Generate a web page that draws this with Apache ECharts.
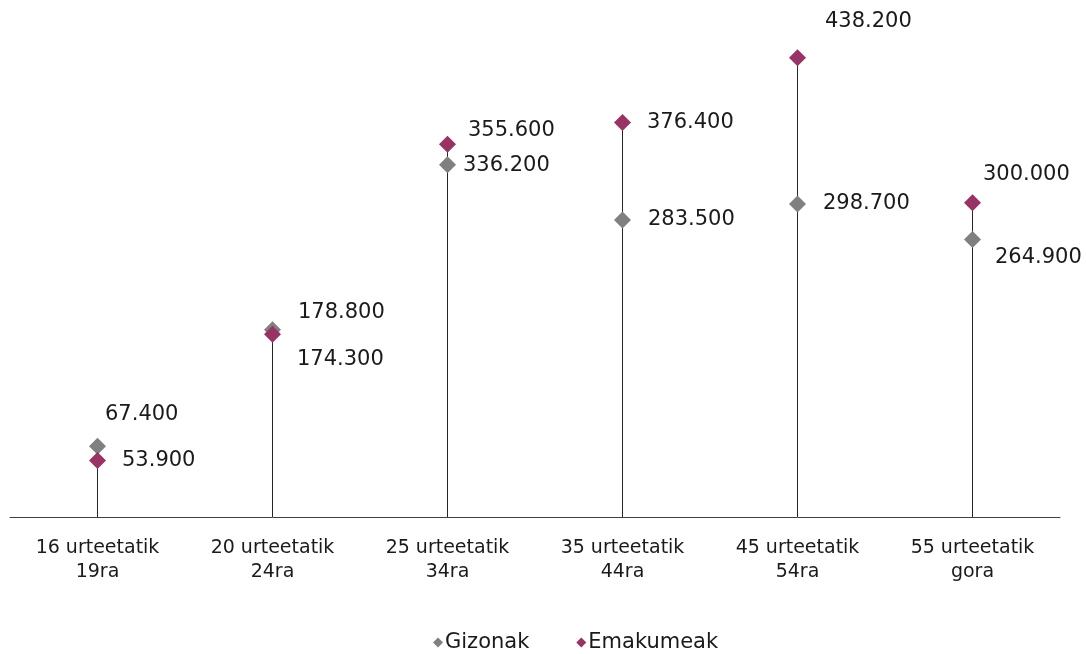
<!DOCTYPE html>
<html>
<head>
<meta charset="utf-8">
<script src="https://cdn.jsdelivr.net/npm/echarts@6/dist/echarts.min.js"></script>
<style>html,body{margin:0;padding:0;background:#fff}#c{width:1086px;height:654px}</style>
</head>
<body>
<div id="c"></div>
<script>
const categories = ['16 urteetatik\n19ra','20 urteetatik\n24ra','25 urteetatik\n34ra','35 urteetatik\n44ra','45 urteetatik\n54ra','55 urteetatik\ngora'];
const gizonak = [67400, 178800, 336200, 283500, 298700, 264900];
const emakumeak = [53900, 174300, 355600, 376400, 438200, 300000];
const seriesNames = ['Gizonak', 'Emakumeak'];

// label offsets (style only)
const gizOffsets = [[-1,-32],[17,-17],[7,1],[17,0],[17,0],[14,18]];
const emaOffsets = [[16,0],[16,25],[12,-14],[16,0],[19,-36],[2,-28]];

const FONT = 'DejaVu Sans, sans-serif';
const fmt = v => v.toString().replace(/\B(?=(\d{3})+(?!\d))/g, '.');

function pts(vals, offs) {
  return vals.map((v, i) => ({
    value: v,
    label: { offset: offs[i] }
  }));
}

const chart = echarts.init(document.getElementById('c'));
chart.setOption({
  animation: false,
  grid: { left: 10, right: 26, top: 14, bottom: 137 },
  xAxis: {
    type: 'category',
    data: categories,
    axisLine: { lineStyle: { color: '#404040', width: 1 } },
    axisTick: { show: false },
    axisLabel: { color: '#1a1a1a', fontSize: 19, fontFamily: FONT, lineHeight: 24, margin: 19 }
  },
  yAxis: { type: 'value', min: 0, max: 480000, show: false, splitLine: { show: false } },
  legend: {
    data: seriesNames,
    left: 428, top: 627,
    itemWidth: 10, itemHeight: 10, itemGap: 47,
    icon: 'diamond',
    textStyle: { color: '#1a1a1a', fontSize: 21, fontFamily: FONT, padding: [0,0,0,-3] }
  },
  series: [
    {
      type: 'bar', name: 'drop', data: emakumeak, barWidth: 1, silent: true,
      itemStyle: { color: '#262626' }, z: 1
    },
    {
      type: 'scatter', name: seriesNames[0], data: pts(gizonak, gizOffsets),
      symbol: 'diamond', symbolSize: 17, z: 3,
      itemStyle: { color: '#808080', opacity: 1 },
      label: { show: true, position: 'right', distance: 0, color: '#1a1a1a', opacity: 1, fontSize: 21, fontFamily: FONT,
        formatter: p => fmt(p.value) }
    },
    {
      type: 'scatter', name: seriesNames[1], data: pts(emakumeak, emaOffsets),
      symbol: 'diamond', symbolSize: 17, z: 4,
      itemStyle: { color: '#993366', opacity: 1 },
      label: { show: true, position: 'right', distance: 0, color: '#1a1a1a', opacity: 1, fontSize: 21, fontFamily: FONT,
        formatter: p => fmt(p.value) }
    }
  ]
});
</script>
</body>
</html>
